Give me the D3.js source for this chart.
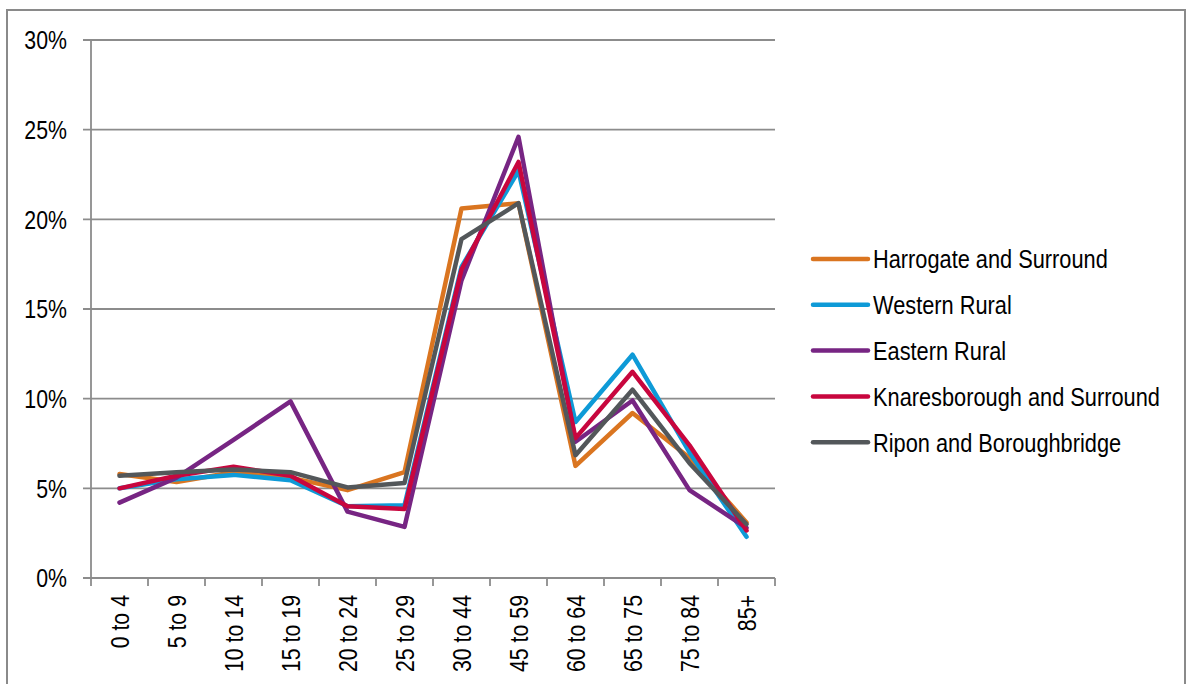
<!DOCTYPE html>
<html>
<head>
<meta charset="utf-8">
<script src="https://cdn.jsdelivr.net/npm/d3@7"></script>
<style>
  body { margin: 0; background: #fff; }
  text { font-family: "Liberation Sans", Arial, sans-serif; fill: #000; }
</style>
</head>
<body>
<div id="chart"></div>
<script>
var W = 1193, H = 684;
var ageGroups = ["0 to 4", "5 to 9", "10 to 14", "15 to 19", "20 to 24", "25 to 29",
  "30 to 44", "45 to 59", "60 to 64", "65 to 75", "75 to 84", "85+"];
var seriesNames = ["Harrogate and Surround", "Western Rural", "Eastern Rural",
  "Knaresborough and Surround", "Ripon and Boroughbridge"];
var seriesColors = ["#da7520", "#0e9ad7", "#772583", "#c8063e", "#53575a"];
var harrogate = [5.8, 5.35, 5.9, 5.6, 4.9, 5.9, 20.6, 20.9, 6.25, 9.2, 6.7, 3.1];
var western = [5.0, 5.5, 5.75, 5.45, 4.0, 4.05, 17.35, 22.7, 8.7, 12.45, 7.0, 2.3];
var eastern = [4.2, 5.6, 7.7, 9.85, 3.7, 2.85, 16.6, 24.6, 7.6, 9.9, 4.9, 2.8];
var knaresborough = [5.0, 5.7, 6.2, 5.7, 4.0, 3.85, 17.2, 23.2, 7.8, 11.5, 7.4, 2.65];
var ripon = [5.7, 5.9, 6.05, 5.9, 5.05, 5.3, 18.9, 20.9, 6.85, 10.5, 6.4, 3.0];
var yTicks = [0, 5, 10, 15, 20, 25, 30];

var seriesValues = [harrogate, western, eastern, knaresborough, ripon];
var gridColor = "#8c8c8c";
var squeeze = 0.82; // text in the source is a narrow face

var svg = d3.select("#chart").append("svg")
  .attr("width", W)
  .attr("height", H);

// outer frame
svg.append("rect")
  .attr("x", 7).attr("y", 10)
  .attr("width", 1178).attr("height", 700)
  .attr("fill", "none")
  .attr("stroke", "#8a8a8a")
  .attr("stroke-width", 2);

var x = d3.scaleBand().domain(ageGroups).range([91, 775]);
var y = d3.scaleLinear().domain([0, 30]).range([578, 40]);

// gridlines + y labels
var yg = svg.append("g");
yg.selectAll("line")
  .data(yTicks)
  .enter()
  .append("line")
  .attr("x1", 83).attr("x2", 775)
  .attr("y1", d => y(d)).attr("y2", d => y(d))
  .attr("stroke", gridColor)
  .attr("stroke-width", 1.8);

yg.selectAll("text")
  .data(yTicks)
  .enter()
  .append("text")
  .attr("transform", d => "translate(67," + y(d) + ") scale(" + squeeze + ",1)")
  .attr("text-anchor", "end")
  .attr("dy", "0.36em")
  .style("font-size", "26px")
  .text(d => d + "%");

// y axis line
svg.append("line")
  .attr("x1", 91).attr("x2", 91)
  .attr("y1", 40).attr("y2", 578)
  .attr("stroke", gridColor)
  .attr("stroke-width", 1.8);

// x ticks (category boundaries)
var bounds = ageGroups.map(d => x(d)).concat([x.range()[1]]);
svg.append("g").selectAll("line")
  .data(bounds)
  .enter()
  .append("line")
  .attr("x1", d => d).attr("x2", d => d)
  .attr("y1", 578).attr("y2", 586)
  .attr("stroke", gridColor)
  .attr("stroke-width", 1.8);

svg.append("g").selectAll("text")
  .data(ageGroups)
  .enter()
  .append("text")
  .attr("transform", d => "translate(" + (x(d) + x.bandwidth() / 2) + ",595) rotate(-90) scale(" + squeeze + ",1)")
  .attr("text-anchor", "end")
  .attr("dy", "0.36em")
  .style("font-size", "26px")
  .text(d => d);

// series lines
var line = d3.line()
  .x((d, i) => x(ageGroups[i]) + x.bandwidth() / 2)
  .y(d => y(d));

svg.append("g").selectAll("path")
  .data(seriesValues)
  .enter()
  .append("path")
  .attr("d", d => line(d))
  .attr("fill", "none")
  .attr("stroke", (d, i) => seriesColors[i])
  .attr("stroke-width", 4.5)
  .attr("stroke-linejoin", "round")
  .attr("stroke-linecap", "round");

// legend
var lg = svg.append("g").selectAll("g")
  .data(seriesNames)
  .enter()
  .append("g")
  .attr("transform", (d, i) => "translate(813," + (259 + i * 45.8) + ")");

lg.append("line")
  .attr("x1", 0).attr("x2", 55)
  .attr("stroke", (d, i) => seriesColors[i])
  .attr("stroke-width", 4.5)
  .attr("stroke-linecap", "round");

lg.append("text")
  .attr("transform", "translate(60,0) scale(0.838,1)")
  .attr("dy", "0.36em")
  .style("font-size", "26px")
  .text(d => d);
</script>
</body>
</html>
